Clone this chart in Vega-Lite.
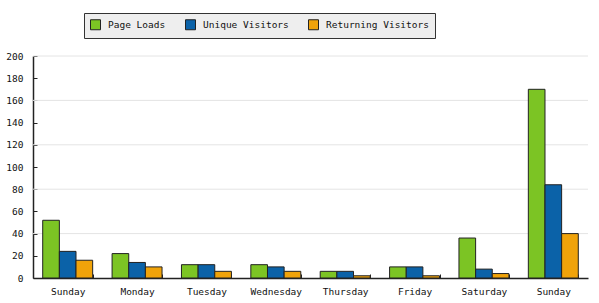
{
  "$schema": "https://vega.github.io/schema/vega-lite/v6.json",
  "width": 555,
  "height": 222,
  "autosize": {"type": "none"},
  "padding": {"left": 33, "top": 56, "right": 11, "bottom": 25},
  "background": "#ffffff",
  "config": {
    "view": {"stroke": null},
    "font": "DejaVu Sans Mono",
    "axis": {"labelFont": "DejaVu Sans Mono", "labelFontSize": 9.5, "labelColor": "#111", "domainColor": "#222", "tickColor": "#222"}
  },
  "datasets": {
    "grid": [{"v": 40}, {"v": 80}, {"v": 120}, {"v": 160}, {"v": 200}]
  },
  "data": {
    "values": [
      {"day": "Sunday", "series": "Page Loads", "value": 52},
      {"day": "Sunday", "series": "Unique Visitors", "value": 24},
      {"day": "Sunday", "series": "Returning Visitors", "value": 16},
      {"day": "Monday", "series": "Page Loads", "value": 22},
      {"day": "Monday", "series": "Unique Visitors", "value": 14},
      {"day": "Monday", "series": "Returning Visitors", "value": 10},
      {"day": "Tuesday", "series": "Page Loads", "value": 12},
      {"day": "Tuesday", "series": "Unique Visitors", "value": 12},
      {"day": "Tuesday", "series": "Returning Visitors", "value": 6},
      {"day": "Wednesday", "series": "Page Loads", "value": 12},
      {"day": "Wednesday", "series": "Unique Visitors", "value": 10},
      {"day": "Wednesday", "series": "Returning Visitors", "value": 6},
      {"day": "Thursday", "series": "Page Loads", "value": 6},
      {"day": "Thursday", "series": "Unique Visitors", "value": 6},
      {"day": "Thursday", "series": "Returning Visitors", "value": 2},
      {"day": "Friday", "series": "Page Loads", "value": 10},
      {"day": "Friday", "series": "Unique Visitors", "value": 10},
      {"day": "Friday", "series": "Returning Visitors", "value": 2},
      {"day": "Saturday", "series": "Page Loads", "value": 36},
      {"day": "Saturday", "series": "Unique Visitors", "value": 8},
      {"day": "Saturday", "series": "Returning Visitors", "value": 4},
      {"day": "Sunday ", "series": "Page Loads", "value": 170},
      {"day": "Sunday ", "series": "Unique Visitors", "value": 84},
      {"day": "Sunday ", "series": "Returning Visitors", "value": 40}
    ]
  },
  "layer": [
    {
      "data": {"name": "grid"},
      "mark": {"type": "rule", "color": "#e4e4e4", "strokeWidth": 1},
      "encoding": {
        "y": {"field": "v", "type": "quantitative", "scale": {"domain": [0, 200]},
          "axis": {"title": null, "values": [0, 20, 40, 60, 80, 100, 120, 140, 160, 180, 200], "grid": false, "tickSize": -4, "labelPadding": 14, "domainWidth": 1.5}}
      }
    },
    {
      "mark": {"type": "bar", "stroke": "#222", "strokeWidth": 1},
      "encoding": {
        "x": {
          "field": "day", "type": "nominal", "sort": null,
          "scale": {"paddingInner": 0.28, "paddingOuter": 0.14},
          "axis": {"title": null, "labelAngle": 0, "tickBand": "extent", "tickSize": -4, "labelPadding": 12, "domainWidth": 1.5}
        },
        "xOffset": {"field": "series", "type": "nominal", "sort": ["Page Loads", "Unique Visitors", "Returning Visitors"]},
        "y": {
          "field": "value", "type": "quantitative",
          "scale": {"domain": [0, 200]},
          "axis": {"title": null, "values": [0, 20, 40, 60, 80, 100, 120, 140, 160, 180, 200], "grid": false, "tickSize": -4, "labelPadding": 14, "domainWidth": 1.5}
        },
        "color": {
          "field": "series", "type": "nominal",
          "sort": ["Page Loads", "Unique Visitors", "Returning Visitors"],
          "scale": {"domain": ["Page Loads", "Unique Visitors", "Returning Visitors"], "range": ["#7cc424", "#0b62a8", "#f0a30a"]},
          "legend": {
            "title": null, "orient": "none", "direction": "horizontal",
            "legendX": 51, "legendY": -43,
            "fillColor": "#eeeeee", "strokeColor": "#333333", "padding": 6,
            "symbolType": "square", "symbolSize": 100, "symbolStrokeColor": "#222", "symbolStrokeWidth": 1, "symbolOpacity": 1,
            "labelFont": "DejaVu Sans Mono", "labelFontSize": 9.5, "labelColor": "#111", "labelOffset": 7, "columnPadding": 17
          }
        }
      }
    }
  ]
}
